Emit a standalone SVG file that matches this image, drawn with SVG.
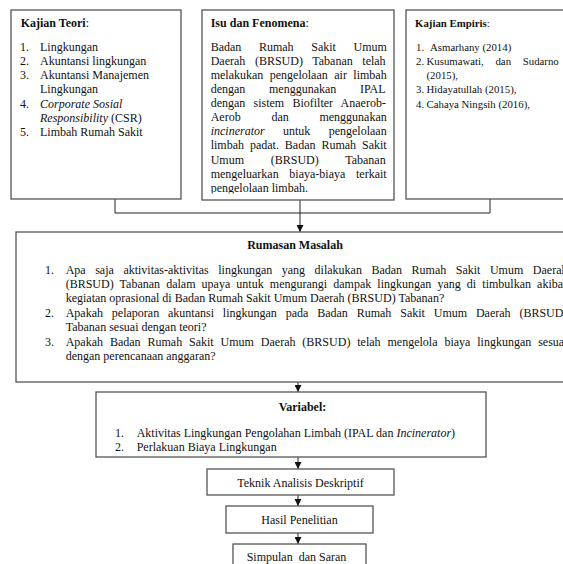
<svg xmlns="http://www.w3.org/2000/svg" width="563" height="564" viewBox="0 0 563 564">
<defs>
<style>
.box{fill:#fff;stroke:#555;stroke-width:1.3}
.conn{fill:none;stroke:#222;stroke-width:1}
.t{font-family:"Liberation Serif","Times New Roman",serif;font-size:12px;fill:#111}
.s{font-size:10.8px}
.b{font-weight:bold}
.i{font-style:italic}
.m{text-anchor:middle}
</style>
<marker id="arr" markerWidth="7" markerHeight="7" refX="7" refY="3.5" orient="auto" markerUnits="userSpaceOnUse">
<path d="M0,0 L7,3.5 L0,7 z" fill="#111"/>
</marker>
<clipPath id="isuClip"><rect x="202" y="10" width="192" height="183.5"/></clipPath>
</defs>
<rect width="563" height="564" fill="#fff"/>

<g id="connectors">
<polyline class="conn" points="115,199 115,213 490,213 490,199"/>
<line class="conn" x1="300" y1="200" x2="300" y2="232" marker-end="url(#arr)"/>
<line class="conn" x1="298" y1="382" x2="298" y2="392" marker-end="url(#arr)"/>
<line class="conn" x1="298" y1="457" x2="298" y2="469" marker-end="url(#arr)"/>
<line class="conn" x1="298" y1="495" x2="298" y2="506" marker-end="url(#arr)"/>
<line class="conn" x1="298" y1="533" x2="298" y2="544" marker-end="url(#arr)"/>
</g>

<g id="kajian-teori">
<rect class="box" x="11" y="10" width="170" height="189"/>
<text class="t" x="20.7" y="26.5"><tspan class="b">Kajian Teori</tspan>:</text>
<text class="t" x="20" y="50.7">1.</text><text class="t" x="40" y="50.7">Lingkungan</text>
<text class="t" x="20" y="64.9">2.</text><text class="t" x="40" y="64.9">Akuntansi lingkungan</text>
<text class="t" x="20" y="79.1">3.</text><text class="t" x="40" y="79.1">Akuntansi Manajemen</text>
<text class="t" x="40" y="93.3">Lingkungan</text>
<text class="t" x="20" y="107.5">4.</text><text class="t i" x="40" y="107.5">Corporate Sosial</text>
<text class="t" x="40" y="121.7"><tspan class="i">Responsibility</tspan> (CSR)</text>
<text class="t" x="20" y="135.9">5.</text><text class="t" x="40" y="135.9">Limbah Rumah Sakit</text>
</g>

<g id="isu-fenomena">
<rect class="box" x="202" y="10" width="192" height="190"/>
<text class="t" x="210.7" y="26.5"><tspan class="b">Isu dan Fenomena</tspan>:</text>
<g clip-path="url(#isuClip)">
<text class="t" x="210.7" y="50.7" word-spacing="14.6">Badan Rumah Sakit Umum</text>
<text class="t" x="210.7" y="64.8" word-spacing="6.57">Daerah (BRSUD) Tabanan telah</text>
<text class="t" x="210.7" y="78.9" word-spacing="3.46">melakukan pengelolaan air limbah</text>
<text class="t" x="210.7" y="93" word-spacing="20.7">dengan menggunakan IPAL</text>
<text class="t" x="210.7" y="107.1" word-spacing="5.2">dengan sistem Biofilter Anaerob-</text>
<text class="t" x="210.7" y="121.2" word-spacing="27.7">Aerob dan menggunakan</text>
<text class="t" x="210.7" y="135.3" word-spacing="15.35"><tspan class="i">incinerator</tspan> untuk pengelolaan</text>
<text class="t" x="210.7" y="149.4" word-spacing="2.92">limbah padat. Badan Rumah Sakit</text>
<text class="t" x="210.7" y="163.5" word-spacing="23.7">Umum (BRSUD) Tabanan</text>
<text class="t" x="210.7" y="177.6" word-spacing="7.7">mengeluarkan biaya-biaya terkait</text>
<text class="t" x="210.7" y="191.7">pengelolaan limbah.</text>
</g>
</g>

<g id="kajian-empiris">
<rect class="box" x="406" y="10" width="170" height="189"/>
<text class="t s" x="415" y="26.5"><tspan class="b">Kajian Empiris</tspan>:</text>
<text class="t s" x="416" y="50.7">1.</text><text class="t s" x="430" y="50.7">Asmarhany (2014)</text>
<text class="t s" x="416" y="64.9">2.</text><text class="t s" x="426.5" y="64.9" word-spacing="9">Kusumawati, dan Sudarno</text>
<text class="t s" x="426.5" y="79.1">(2015),</text>
<text class="t s" x="416" y="93.3">3.</text><text class="t s" x="426.5" y="93.3">Hidayatullah (2015),</text>
<text class="t s" x="416" y="107.5">4.</text><text class="t s" x="426.5" y="107.5">Cahaya Ningsih (2016),</text>
</g>

<g id="rumusan-masalah">
<rect class="box" x="16" y="232" width="570" height="150"/>
<text class="t b m" x="295" y="249">Rumasan Masalah</text>
<text class="t" x="45" y="273.5">1.</text>
<text class="t" x="65.7" y="273.5" word-spacing="6.52">Apa saja aktivitas-aktivitas lingkungan yang dilakukan Badan Rumah Sakit Umum Daerah</text>
<text class="t" x="65.7" y="287.9" word-spacing="3.11">(BRSUD) Tabanan dalam upaya untuk mengurangi dampak lingkungan yang di timbulkan akibat</text>
<text class="t" x="65.7" y="302.3">kegiatan oprasional di Badan Rumah Sakit Umum Daerah (BRSUD) Tabanan?</text>
<text class="t" x="45" y="316.7">2.</text>
<text class="t" x="65.7" y="316.7" word-spacing="5.85">Apakah pelaporan akuntansi lingkungan pada Badan Rumah Sakit Umum Daerah (BRSUD)</text>
<text class="t" x="65.7" y="331.1">Tabanan sesuai dengan teori?</text>
<text class="t" x="45" y="345.5">3.</text>
<text class="t" x="65.7" y="345.5" word-spacing="3.9">Apakah Badan Rumah Sakit Umum Daerah (BRSUD) telah mengelola biaya lingkungan sesuai</text>
<text class="t" x="65.7" y="359.9">dengan perencanaan anggaran?</text>
</g>

<g id="variabel">
<rect class="box" x="96" y="392" width="390" height="65"/>
<text class="t b m" x="302.5" y="411">Variabel:</text>
<text class="t" x="115" y="437">1.</text>
<text class="t" x="136.7" y="437">Aktivitas Lingkungan Pengolahan Limbah (IPAL dan <tspan class="i">Incinerator</tspan>)</text>
<text class="t" x="115" y="451">2.</text>
<text class="t" x="136.7" y="451">Perlakuan Biaya Lingkungan</text>
</g>

<g id="teknik-analisis">
<rect class="box" x="207" y="469" width="187" height="26"/>
<text class="t m" x="300.5" y="486.5">Teknik Analisis Deskriptif</text>
</g>

<g id="hasil-penelitian">
<rect class="box" x="226" y="506" width="147" height="27"/>
<text class="t m" x="299.5" y="523.5">Hasil Penelitian</text>
</g>

<g id="simpulan-saran">
<rect class="box" x="233" y="544" width="133" height="30"/>
<text class="t" x="246.7" y="560.5" xml:space="preserve">Simpulan  dan Saran</text>
</g>
</svg>
